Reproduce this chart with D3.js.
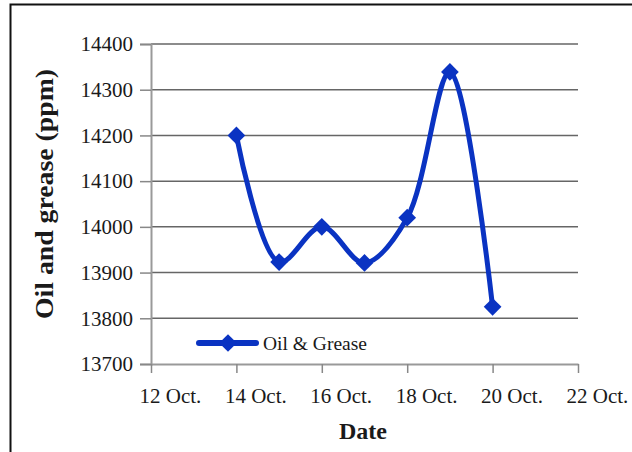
<html>
<head>
<meta charset="utf-8">
<style>
  body { margin: 0; background: #fff; }
  text { font-family: "Liberation Serif", "Times New Roman", serif; }
</style>
</head>
<body>
<script src="https://cdn.jsdelivr.net/npm/d3@7"></script>
<script>
var width = 632, height = 452;

// data (day of October, ppm)
var days = [14, 15, 16, 17, 18, 19, 20];
var oilGrease = [14200, 13923, 14000, 13921, 14020, 14339, 13825];
var xTicks = [12, 14, 16, 18, 20, 22];
var yTicks = [13700, 13800, 13900, 14000, 14100, 14200, 14300, 14400];
var seriesName = "Oil & Grease";

var blue = "#0a33c2";

var svg = d3.select("body").append("svg")
    .attr("width", width)
    .attr("height", height);

// outer frame (runs off right and bottom)
svg.append("rect")
    .attr("x", 10.5).attr("y", 4.5)
    .attr("width", 640).attr("height", 470)
    .attr("fill", "none")
    .attr("stroke", "#111")
    .attr("stroke-width", 2);

var x = d3.scaleLinear().domain([12, 22]).range([151, 578]);
var y = d3.scaleLinear().domain([13700, 14400]).range([364, 44]);

// gridlines
svg.append("g").selectAll("line")
    .data(yTicks.slice(1))
    .join("line")
    .attr("x1", x(12)).attr("x2", x(22))
    .attr("y1", d => y(d)).attr("y2", d => y(d))
    .attr("stroke", "#666")
    .attr("stroke-width", 1.5);

// y axis
var gy = svg.append("g")
    .attr("transform", "translate(" + x(12) + ",0)")
    .call(d3.axisLeft(y).tickValues(yTicks).tickSize(11).tickPadding(7).tickFormat(d3.format("d")));
gy.attr("font-family", null);
gy.select(".domain").attr("stroke", "#999").attr("stroke-width", 2);
gy.selectAll(".tick line").attr("stroke", "#888").attr("stroke-width", 1.5);
gy.selectAll("text").attr("font-size", 21).attr("fill", "#1a1a1a");

// x axis
var gx = svg.append("g")
    .attr("transform", "translate(0," + y(13700) + ")")
    .call(d3.axisBottom(x).tickValues(xTicks).tickSize(9).tickSizeOuter(0).tickPadding(12)
        .tickFormat(d => d + " Oct."));
gx.attr("font-family", null);
gx.select(".domain").attr("stroke", "#999").attr("stroke-width", 2);
gx.selectAll(".tick line").attr("stroke", "#888").attr("stroke-width", 1.5);
gx.selectAll("text").attr("font-size", 21).attr("fill", "#1a1a1a")
    .attr("text-anchor", "start")
    .attr("x", -12)
    .attr("dy", "0.85em");

// series
var pts = days.map((d, i) => [x(d), y(oilGrease[i])]);
svg.append("path")
    .datum(pts)
    .attr("fill", "none")
    .attr("stroke", blue)
    .attr("stroke-width", 5)
    .attr("stroke-linejoin", "round")
    .attr("d", d3.line().curve(d3.curveCatmullRom.alpha(0.5)));

var diamond = d3.symbol().type(d3.symbolDiamond2).size(200);
svg.append("g").selectAll("path")
    .data(pts)
    .join("path")
    .attr("transform", d => "translate(" + d[0] + "," + d[1] + ")")
    .attr("d", diamond)
    .attr("fill", blue);

// legend
var lg = svg.append("g").attr("transform", "translate(199,343)");
lg.append("line").attr("x1", 0).attr("x2", 57).attr("y1", 0).attr("y2", 0)
    .attr("stroke", blue).attr("stroke-width", 6).attr("stroke-linecap", "round");
lg.append("path").attr("transform", "translate(29,0)").attr("d", diamond).attr("fill", blue);
lg.append("text").attr("x", 64).attr("y", 0).attr("dy", "0.35em")
    .attr("font-size", 19.5).attr("fill", "#1a1a1a").text(seriesName);

// axis titles
svg.append("text")
    .attr("x", 363).attr("y", 439)
    .attr("text-anchor", "middle")
    .attr("font-size", 24).attr("font-weight", "bold").attr("fill", "#1a1a1a")
    .text("Date");

svg.append("text")
    .attr("transform", "translate(53,194) rotate(-90)")
    .attr("text-anchor", "middle")
    .attr("font-size", 25).attr("font-weight", "bold").attr("fill", "#1a1a1a")
    .attr("textLength", 250).attr("lengthAdjust", "spacingAndGlyphs")
    .text("Oil and grease (ppm)");
</script>
</body>
</html>
